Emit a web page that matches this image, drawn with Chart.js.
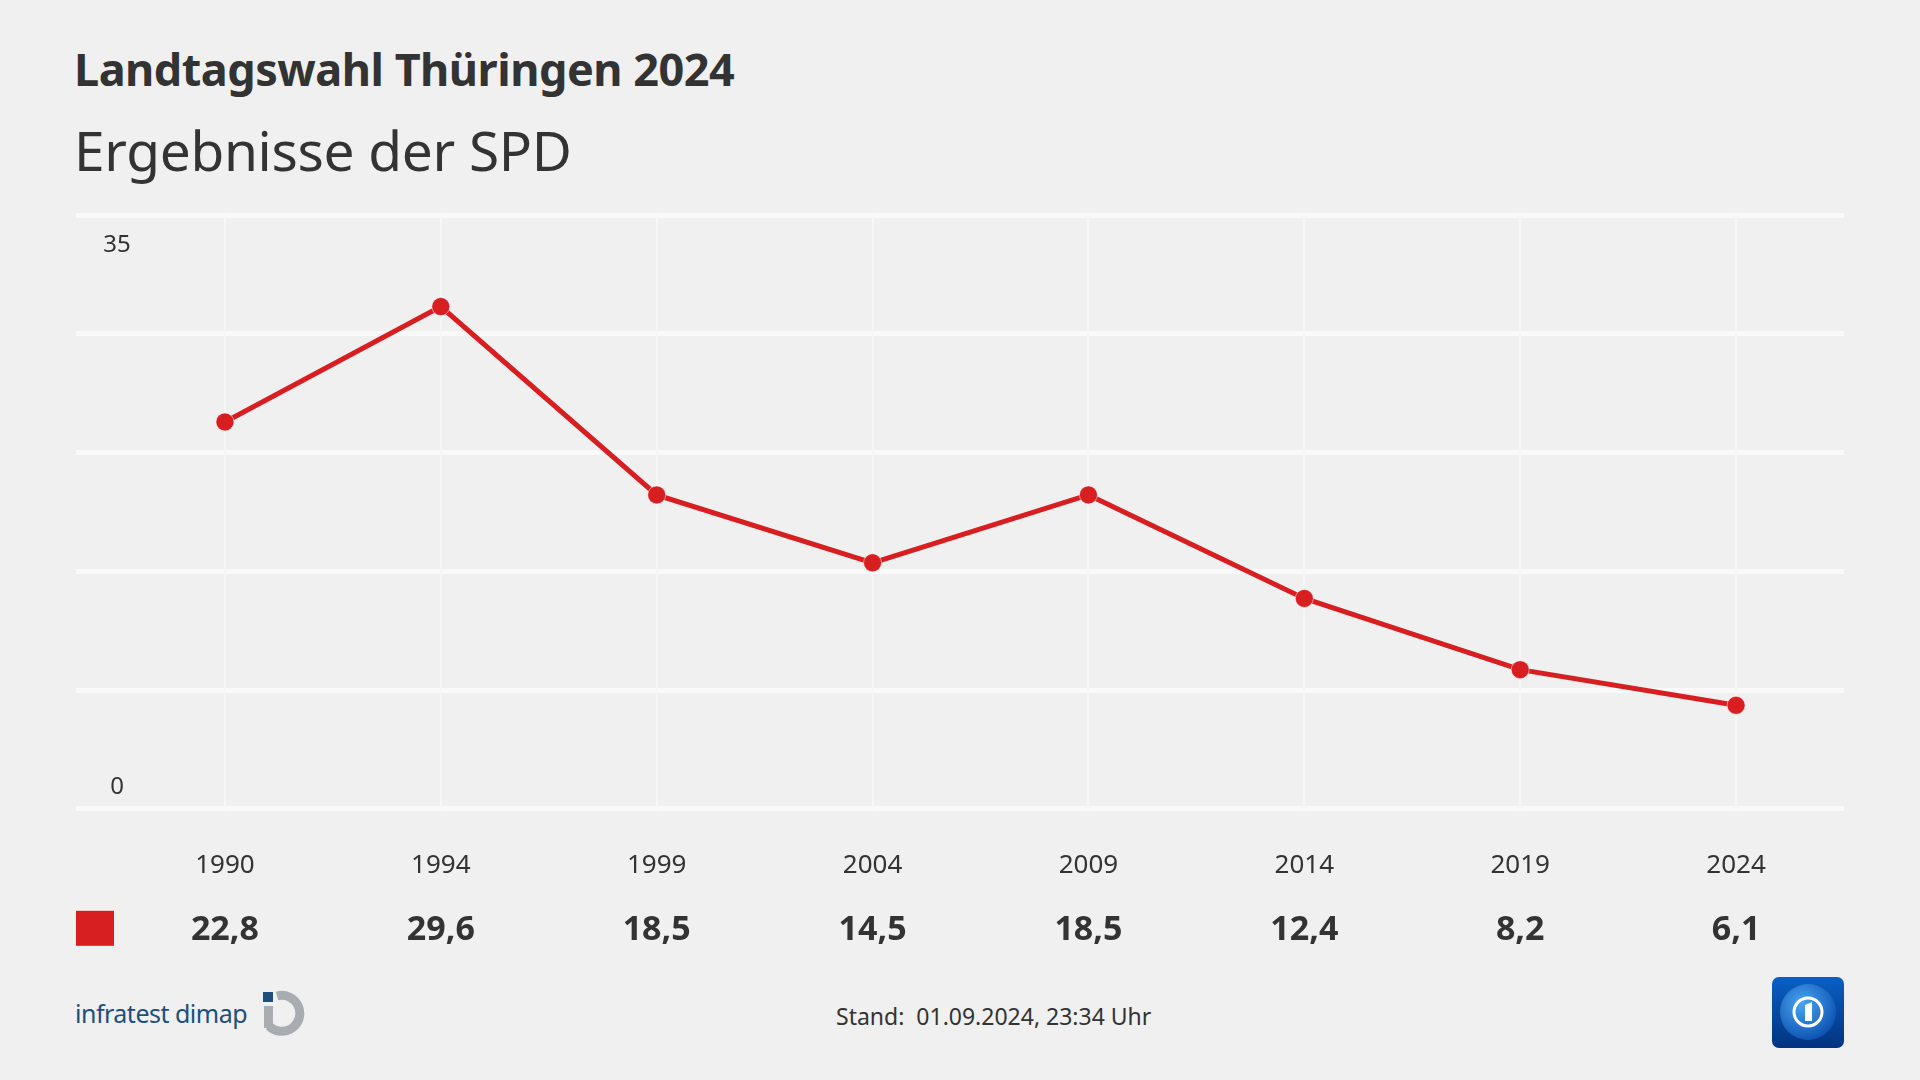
<!DOCTYPE html>
<html lang="de">
<head>
<meta charset="utf-8">
<title>Landtagswahl Thüringen 2024 – Ergebnisse der SPD</title>
<script src="https://cdn.jsdelivr.net/npm/chart.js@4.4.1/dist/chart.umd.min.js"></script>
<style>
  html, body { margin: 0; padding: 0; }
  body {
    width: 1920px; height: 1080px; overflow: hidden;
    background: #f0f0f0; position: relative;
    font-family: 'Noto Sans', 'Open Sans', sans-serif; color: #333;
  }
  #title {
    position: absolute; left: 74px; top: 38px;
    font-size: 45px; font-weight: 700; letter-spacing: -0.5px;
  }
  #subtitle {
    position: absolute; left: 74px; top: 112px;
    font-size: 55px; font-weight: 400; letter-spacing: -0.3px;
  }
  #wrap { position: absolute; left: 0; top: 200px; width: 1920px; height: 780px; }
  #brand {
    position: absolute; left: 75px; top: 990px;
    font-size: 25px; color: #1d4f7c; letter-spacing: -0.5px;
    display: flex; align-items: center;
  }
  #brand svg { margin-left: 14px; }
  #stand {
    position: absolute; left: 836px; top: 1000px;
    font-size: 23px; color: #333;
  }
  #tlogo { position: absolute; left: 1772px; top: 977px; }
</style>
</head>
<body>
<div id="title">Landtagswahl Thüringen 2024</div>
<div id="subtitle">Ergebnisse der SPD</div>
<div id="wrap"><canvas id="chart" width="1920" height="780"></canvas></div>
<div id="brand">infratest dimap
  <svg width="46" height="46" viewBox="0 0 46 46">
    <rect x="2" y="2" width="10" height="10" fill="#1d4f7c"/>
    <path d="M16 6 A18 18 0 1 1 8 36" fill="none" stroke="#a9adb2" stroke-width="9"/>
    <rect x="3" y="16" width="9" height="22" fill="#a9adb2"/>
  </svg>
</div>
<div id="stand">Stand:&nbsp; 01.09.2024, 23:34 Uhr</div>
<svg id="tlogo" width="72" height="71" viewBox="0 0 72 71">
  <defs>
    <linearGradient id="bg" x1="0" y1="0" x2="0" y2="1">
      <stop offset="0" stop-color="#0a5fc4"/>
      <stop offset="1" stop-color="#02337f"/>
    </linearGradient>
    <radialGradient id="globe" cx="0.4" cy="0.35" r="0.7">
      <stop offset="0" stop-color="#4aa6f0"/>
      <stop offset="1" stop-color="#0b4fb0"/>
    </radialGradient>
  </defs>
  <rect x="0" y="0" width="72" height="71" rx="7" fill="url(#bg)"/>
  <circle cx="36" cy="35" r="28" fill="url(#globe)"/>
  <circle cx="36" cy="35" r="14" fill="none" stroke="#ffffff" stroke-width="3"/>
  <path d="M33 28 L40 25 L40 44 L33 44 Z" fill="#ffffff"/>
</svg>

<script>
const years = ['1990', '1994', '1999', '2004', '2009', '2014', '2019', '2024'];
const spd = [22.8, 29.6, 18.5, 14.5, 18.5, 12.4, 8.2, 6.1];
const valueLabels = ['22,8', '29,6', '18,5', '14,5', '18,5', '12,4', '8,2', '6,1'];
const yTickLabels = ['0', '35'];

const red = '#d71f22';
const textColor = '#333333';

// "35" / "0" inside the plot, the value row under the years and the red legend square
const extras = {
  id: 'extras',
  afterDraw (chart) {
    const ctx = chart.ctx;
    const x = chart.scales.x;
    const y = chart.scales.y;
    const bottom = chart.chartArea.bottom;
    ctx.save();
    ctx.fillStyle = textColor;
    ctx.font = '24px "Noto Sans"';
    ctx.textAlign = 'center';
    ctx.textBaseline = 'middle';
    ctx.fillText(yTickLabels[1], 117, y.getPixelForValue(35) + 30);
    ctx.fillText(yTickLabels[0], 117, y.getPixelForValue(0) - 22);

    ctx.font = 'bold 34px "Noto Sans"';
    valueLabels.forEach((v, i) => {
      ctx.fillText(v, x.getPixelForValue(i), bottom + 122);
    });

    ctx.fillStyle = red;
    ctx.fillRect(76, bottom + 102, 38, 35);
    ctx.restore();
  }
};

new Chart(document.getElementById('chart'), {
  type: 'line',
  data: {
    labels: years,
    datasets: [{
      label: 'SPD',
      data: spd,
      borderColor: red,
      backgroundColor: red,
      borderWidth: 5,
      pointRadius: 9,
      pointHoverRadius: 9,
      pointBackgroundColor: red,
      pointBorderColor: 'rgba(255,255,255,0.5)',
      pointBorderWidth: 1,
      tension: 0
    }]
  },
  options: {
    responsive: false,
    animation: false,
    layout: { padding: { left: 76, right: 76, top: 15, bottom: 58 } },
    plugins: { legend: { display: false }, tooltip: { enabled: false } },
    scales: {
      y: {
        min: 0,
        max: 35,
        ticks: { stepSize: 7, display: false },
        grid: { color: '#f9f9f9', lineWidth: 5, drawTicks: true, tickLength: 41 },
        border: { display: false }
      },
      x: {
        offset: true,
        grid: { offset: false, color: '#f6f6f6', lineWidth: 2, drawTicks: false },
        border: { display: false },
        ticks: { color: textColor, font: { size: 26, family: 'Noto Sans' }, padding: 41 }
      }
    }
  },
  plugins: [extras]
});
</script>
</body>
</html>
